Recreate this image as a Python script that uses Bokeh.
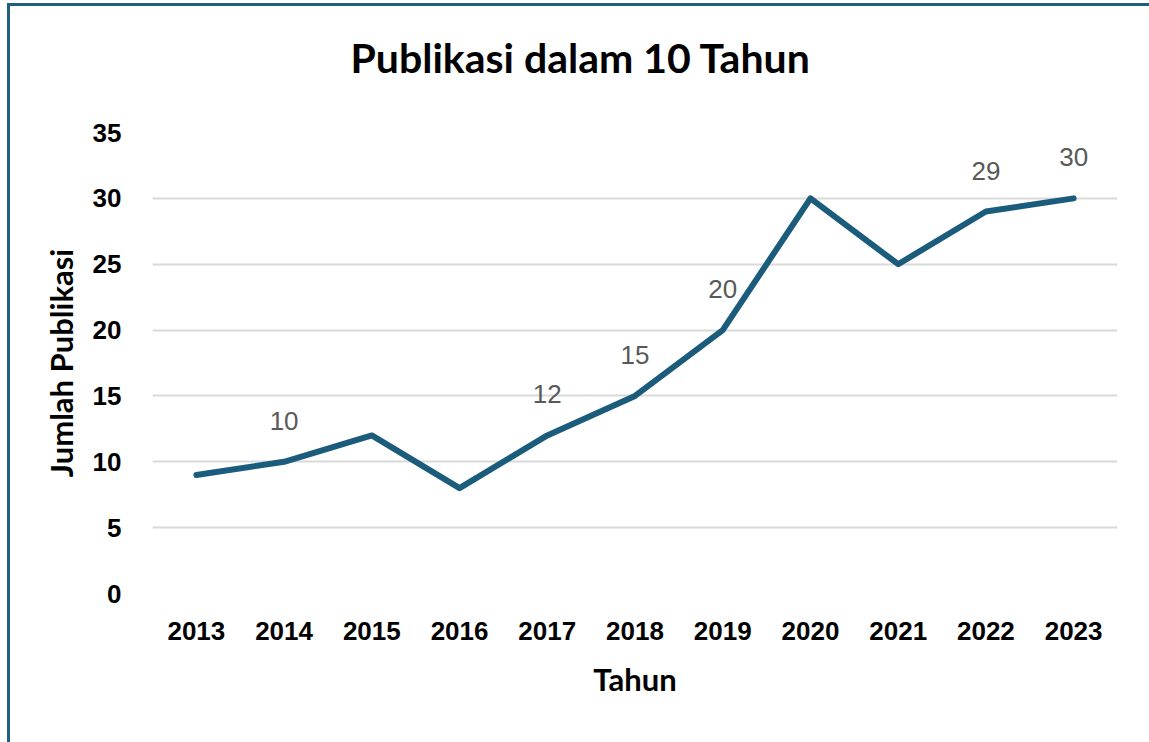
from bokeh.plotting import figure
from bokeh.models import ColumnDataSource, FixedTicker, Title
from bokeh.layouts import column
from bokeh.embed import file_html
from bokeh.resources import INLINE
from bokeh.core.properties import value

years = ["2013", "2014", "2015", "2016", "2017", "2018", "2019", "2020", "2021", "2022", "2023"]
publikasi = [9, 10, 12, 8, 12, 15, 20, 30, 25, 29, 30]
label_years = ["2014", "2017", "2018", "2019", "2022", "2023"]
y_ticks = [0, 5, 10, 15, 20, 25, 30, 35]

LINE = "#1B5C7C"
BORDER = "#1F5F80"
HEAD_FONT = "Lato"

p = figure(x_range=years, y_range=(0, 35), width=1139, height=736,
           output_backend="svg", toolbar_location=None,
           min_border_left=142, min_border_right=32,
           min_border_top=126, min_border_bottom=149)
p.title = None
# spacer between frame and title
p.add_layout(Title(text=" ", text_font_size="10px", standoff=36), "above")
p.add_layout(Title(text="Publikasi dalam 10 Tahun", align="left", offset=198,
                   vertical_align="top",
                   text_font=HEAD_FONT, text_font_style="bold",
                   text_font_size="41px", text_color="#000000", standoff=0), "above")

p.outline_line_color = None
p.background_fill_color = "white"
p.border_fill_color = "white"

src = ColumnDataSource(dict(x=years, y=publikasi))
p.line("x", "y", source=src, line_color=LINE, line_width=6,
       line_join="round", line_cap="round")

lab_y = [publikasi[years.index(y)] for y in label_years]
lsrc = ColumnDataSource(dict(x=label_years, y=lab_y, t=[str(v) for v in lab_y]))
p.text("x", "y", text="t", source=lsrc, text_align="center", text_baseline="bottom",
       y_offset=-32, text_font=value("Liberation Sans"), text_font_size="26px",
       text_color="#595959")

p.xgrid.grid_line_color = None
p.ygrid.grid_line_color = "#D9D9D9"
p.ygrid.grid_line_width = 2
p.yaxis.ticker = FixedTicker(ticks=y_ticks)

for ax in (p.xaxis, p.yaxis):
    ax.axis_line_color = None
    ax.major_tick_line_color = None
    ax.minor_tick_line_color = None
    ax.major_label_text_font = "Liberation Sans"
    ax.major_label_text_font_style = "bold"
    ax.major_label_text_font_size = "26px"
    ax.major_label_text_color = "#000000"
    ax.axis_label_text_font = HEAD_FONT
    ax.axis_label_text_font_style = "bold"
    ax.axis_label_text_font_size = "31px"
    ax.axis_label_text_color = "#000000"

p.xaxis.axis_label = "Tahun"
p.yaxis.axis_label = "Jumlah Publikasi"
p.xaxis.major_label_standoff = 22
p.yaxis.major_label_standoff = 25
p.xaxis.axis_label_standoff = 17
p.yaxis.axis_label_standoff = 10
p.x_range.range_padding = 0

layout = column(p, styles={"margin-left": "7px", "margin-top": "3px",
                           "border-left": "3px solid " + BORDER,
                           "border-top": "3px solid " + BORDER})

open("out.html", "w").write(file_html(layout, INLINE))
